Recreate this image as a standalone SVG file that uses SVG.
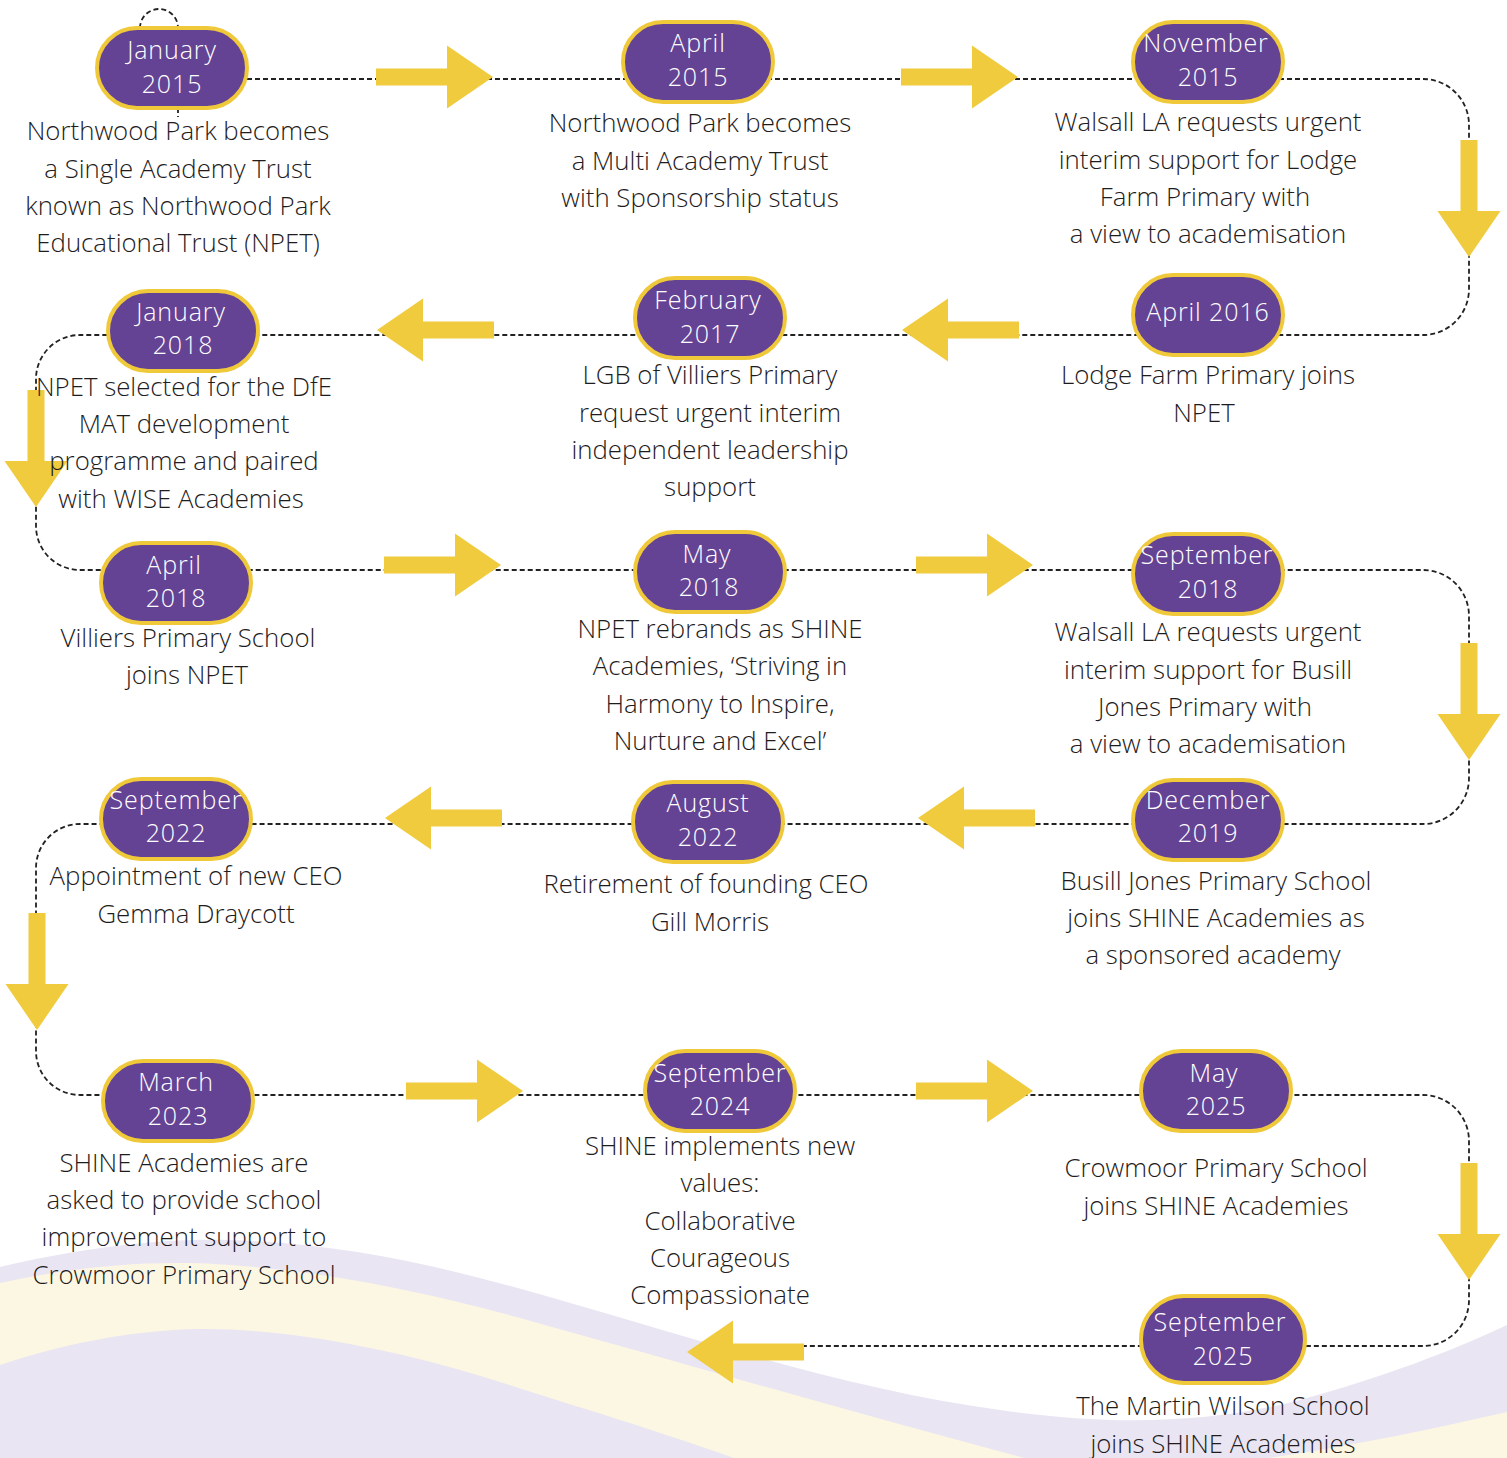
<svg xmlns="http://www.w3.org/2000/svg" xmlns:xlink="http://www.w3.org/1999/xlink" width="1507" height="1458" viewBox="0 0 1507 1458">
<style>
.bg{fill:#ffffff}
.lav{fill:#EAE5F2}
.cream{fill:#FCF7E3}
.conn{fill:none;stroke:#222;stroke-width:1.8;stroke-dasharray:5 3}
.arr{fill:#F0CB3E}
.pill{fill:#654394;stroke:#F0C93A;stroke-width:4}
.pt{font-family:"Open Sans","DejaVu Sans",sans-serif;font-weight:300;font-size:25px;letter-spacing:0.9px;fill:#ffffff;text-anchor:middle}
.dt{font-family:"Open Sans","Liberation Sans",sans-serif;font-weight:300;font-size:25.8px;fill:#1f1c1d;text-anchor:middle}
</style>
<defs>
<path id="arrowR" class="arr" d="M-117,-8.5 H-46 V-31.5 L0,0 L-46,31.5 V8.5 H-117 Z"/>
</defs>
<rect class="bg" x="0" y="0" width="1507" height="1458"/>
<g id="background-waves">
<path class="lav" d="M0,1267 C80,1248 160,1238 230,1240 C350,1244 450,1268 560,1300 C700,1340 850,1390 1000,1410 C1100,1424 1200,1426 1300,1400 C1380,1378 1450,1352 1507,1325 V1458 H0 Z"/>
<path class="cream" d="M0,1283 C60,1270 120,1262 190,1263 C300,1266 420,1290 520,1318 C700,1368 880,1420 1040,1462 L1240,1462 C1330,1450 1420,1432 1507,1412 V1458 H0 Z"/>
<path class="lav" d="M0,1365 C60,1345 130,1330 200,1329 C300,1328 420,1356 500,1382 C580,1408 650,1428 745,1462 H0 Z"/>
</g>
<g id="connectors">
<path class="conn" d="M247,79 H1423 A46,46 0 0 1 1469,125 V289 A46,46 0 0 1 1423,335 H80 A44,44 0 0 0 36,379 V526 A44,44 0 0 0 80,570 H1423 A46,46 0 0 1 1469,616 V778 A46,46 0 0 1 1423,824 H80 A44,44 0 0 0 36,868 V1051 A44,44 0 0 0 80,1095 H1423 A46,46 0 0 1 1469,1141 V1300 A46,46 0 0 1 1423,1346 H804"/>
<path class="conn" d="M140,28 A19,19 0 0 1 178,28"/>
<path class="conn" d="M178,108 V117"/>
<use href="#arrowR" xlink:href="#arrowR" transform="translate(493,77)"/>
<use href="#arrowR" xlink:href="#arrowR" transform="translate(1018,77)"/>
<use href="#arrowR" xlink:href="#arrowR" transform="translate(1469,257) rotate(90)"/>
<use href="#arrowR" xlink:href="#arrowR" transform="translate(377,330) scale(-1,1)"/>
<use href="#arrowR" xlink:href="#arrowR" transform="translate(902,330) scale(-1,1)"/>
<use href="#arrowR" xlink:href="#arrowR" transform="translate(36,507) rotate(90)"/>
<use href="#arrowR" xlink:href="#arrowR" transform="translate(501,565)"/>
<use href="#arrowR" xlink:href="#arrowR" transform="translate(1033,565)"/>
<use href="#arrowR" xlink:href="#arrowR" transform="translate(1469,760) rotate(90)"/>
<use href="#arrowR" xlink:href="#arrowR" transform="translate(385,818) scale(-1,1)"/>
<use href="#arrowR" xlink:href="#arrowR" transform="translate(918,818) scale(-1,1)"/>
<use href="#arrowR" xlink:href="#arrowR" transform="translate(37,1030) rotate(90)"/>
<use href="#arrowR" xlink:href="#arrowR" transform="translate(523,1091)"/>
<use href="#arrowR" xlink:href="#arrowR" transform="translate(1033,1091)"/>
<use href="#arrowR" xlink:href="#arrowR" transform="translate(1469,1280) rotate(90)"/>
<use href="#arrowR" xlink:href="#arrowR" transform="translate(687,1352) scale(-1,1)"/>
</g>
<g id="n-jan2015">
<rect class="pill" x="97" y="28" width="150" height="80" rx="40"/>
<text class="pt" x="172" y="59">January</text><text class="pt" x="172" y="93">2015</text>
<text class="dt" x="178" y="140">Northwood Park becomes</text>
<text class="dt" x="178" y="178">a Single Academy Trust</text>
<text class="dt" x="178" y="215">known as Northwood Park</text>
<text class="dt" x="178" y="252">Educational Trust (NPET)</text>
</g>
<g id="n-apr2015">
<rect class="pill" x="623" y="22" width="150" height="80" rx="40"/>
<text class="pt" x="698" y="52">April</text><text class="pt" x="698" y="86">2015</text>
<text class="dt" x="700" y="132">Northwood Park becomes</text>
<text class="dt" x="700" y="170">a Multi Academy Trust</text>
<text class="dt" x="700" y="207">with Sponsorship status</text>
</g>
<g id="n-nov2015">
<rect class="pill" x="1133" y="22" width="150" height="80" rx="40"/>
<text class="pt" x="1206" y="52">November</text><text class="pt" x="1208" y="86">2015</text>
<text class="dt" x="1208" y="131">Walsall LA requests urgent</text>
<text class="dt" x="1208" y="169">interim support for Lodge</text>
<text class="dt" x="1205" y="206">Farm Primary with</text>
<text class="dt" x="1208" y="243">a view to academisation</text>
</g>
<g id="n-apr2016">
<rect class="pill" x="1133" y="275" width="150" height="80" rx="40"/>
<text class="pt" x="1208" y="321">April 2016</text>
<text class="dt" x="1208" y="384">Lodge Farm Primary joins</text>
<text class="dt" x="1204" y="422">NPET</text>
</g>
<g id="n-feb2017">
<rect class="pill" x="635" y="278" width="150" height="80" rx="40"/>
<text class="pt" x="708" y="309">February</text><text class="pt" x="710" y="343">2017</text>
<text class="dt" x="710" y="384">LGB of Villiers Primary</text>
<text class="dt" x="710" y="422">request urgent interim</text>
<text class="dt" x="710" y="459">independent leadership</text>
<text class="dt" x="710" y="496">support</text>
</g>
<g id="n-jan2018">
<rect class="pill" x="108" y="291" width="150" height="80" rx="40"/>
<text class="pt" x="181" y="321">January</text><text class="pt" x="183" y="354">2018</text>
<text class="dt" x="184" y="396">NPET selected for the DfE</text>
<text class="dt" x="184" y="433">MAT development</text>
<text class="dt" x="184" y="470">programme and paired</text>
<text class="dt" x="181" y="508">with WISE Academies</text>
</g>
<g id="n-apr2018">
<rect class="pill" x="101" y="543" width="150" height="80" rx="40"/>
<text class="pt" x="174" y="574">April</text><text class="pt" x="176" y="607">2018</text>
<text class="dt" x="188" y="647">Villiers Primary School</text>
<text class="dt" x="187" y="684">joins NPET</text>
</g>
<g id="n-may2018">
<rect class="pill" x="635" y="532" width="150" height="80" rx="40"/>
<text class="pt" x="707" y="563">May</text><text class="pt" x="709" y="596">2018</text>
<text class="dt" x="720" y="638">NPET rebrands as SHINE</text>
<text class="dt" x="720" y="675">Academies, ‘Striving in</text>
<text class="dt" x="720" y="713">Harmony to Inspire,</text>
<text class="dt" x="720" y="750">Nurture and Excel’</text>
</g>
<g id="n-sep2018">
<rect class="pill" x="1133" y="534" width="150" height="80" rx="40"/>
<text class="pt" x="1207" y="564">September</text><text class="pt" x="1208" y="598">2018</text>
<text class="dt" x="1208" y="641">Walsall LA requests urgent</text>
<text class="dt" x="1208" y="679">interim support for Busill</text>
<text class="dt" x="1205" y="716">Jones Primary with</text>
<text class="dt" x="1208" y="753">a view to academisation</text>
</g>
<g id="n-dec2019">
<rect class="pill" x="1133" y="780" width="150" height="80" rx="40"/>
<text class="pt" x="1208" y="809">December</text><text class="pt" x="1208" y="842">2019</text>
<text class="dt" x="1216" y="890">Busill Jones Primary School</text>
<text class="dt" x="1216" y="927">joins SHINE Academies as</text>
<text class="dt" x="1213" y="964">a sponsored academy</text>
</g>
<g id="n-aug2022">
<rect class="pill" x="633" y="782" width="150" height="80" rx="40"/>
<text class="pt" x="708" y="812">August</text><text class="pt" x="708" y="846">2022</text>
<text class="dt" x="706" y="893">Retirement of founding CEO</text>
<text class="dt" x="710" y="931">Gill Morris</text>
</g>
<g id="n-sep2022">
<rect class="pill" x="101" y="779" width="150" height="80" rx="40"/>
<text class="pt" x="176" y="809">September</text><text class="pt" x="176" y="842">2022</text>
<text class="dt" x="196" y="885">Appointment of new CEO</text>
<text class="dt" x="196" y="923">Gemma Draycott</text>
</g>
<g id="n-mar2023">
<rect class="pill" x="103" y="1061" width="150" height="80" rx="40"/>
<text class="pt" x="176" y="1091">March</text><text class="pt" x="178" y="1125">2023</text>
<text class="dt" x="184" y="1172">SHINE Academies are</text>
<text class="dt" x="184" y="1209">asked to provide school</text>
<text class="dt" x="184" y="1246">improvement support to</text>
<text class="dt" x="184" y="1284">Crowmoor Primary School</text>
</g>
<g id="n-sep2024">
<rect class="pill" x="645" y="1051" width="150" height="80" rx="40"/>
<text class="pt" x="720" y="1082">September</text><text class="pt" x="720" y="1115">2024</text>
<text class="dt" x="720" y="1155">SHINE implements new</text>
<text class="dt" x="720" y="1192">values:</text>
<text class="dt" x="720" y="1230">Collaborative</text>
<text class="dt" x="720" y="1267">Courageous</text>
<text class="dt" x="720" y="1304">Compassionate</text>
</g>
<g id="n-may2025">
<rect class="pill" x="1141" y="1051" width="150" height="80" rx="40"/>
<text class="pt" x="1214" y="1082">May</text><text class="pt" x="1216" y="1115">2025</text>
<text class="dt" x="1216" y="1177">Crowmoor Primary School</text>
<text class="dt" x="1216" y="1215">joins SHINE Academies</text>
</g>
<g id="n-sep2025">
<rect class="pill" x="1141" y="1296" width="164" height="87" rx="43"/>
<text class="pt" x="1220" y="1331">September</text><text class="pt" x="1223" y="1365">2025</text>
<text class="dt" x="1223" y="1415">The Martin Wilson School</text>
<text class="dt" x="1223" y="1453">joins SHINE Academies</text>
</g>
</svg>
